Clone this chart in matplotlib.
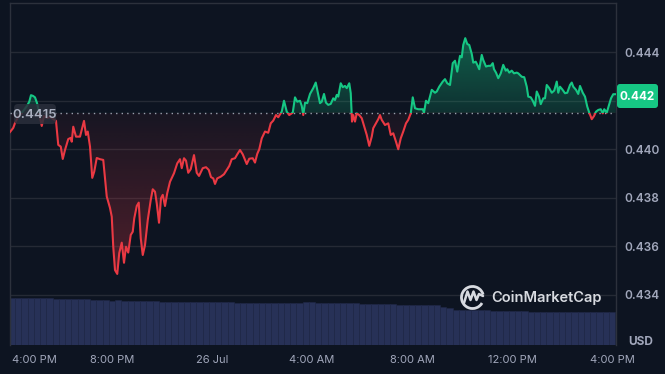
import numpy as np
import matplotlib
matplotlib.use("Agg")
import matplotlib.pyplot as plt
from matplotlib.patches import Rectangle, FancyBboxPatch, Arc
from matplotlib.colors import to_rgb

# ---------------- data ----------------
hours = [
    -0.08, 0.05, 0.12, 0.24, 0.36, 0.48, 0.60, 0.69, 0.76, 0.84,
    0.92, 1.00, 1.08, 1.19, 1.28, 1.40, 1.52, 1.64, 1.76, 1.85,
    1.95, 2.03, 2.12, 2.25, 2.35, 2.39, 2.45, 2.56, 2.72, 2.88,
    2.96, 3.03, 3.12, 3.21, 3.29, 3.39, 3.52, 3.65, 3.79, 3.92,
    3.99, 4.05, 4.12, 4.21, 4.29, 4.39, 4.48, 4.56, 4.65, 4.75,
    4.83, 4.89, 4.99, 5.07, 5.15, 5.23, 5.32, 5.43, 5.55, 5.63,
    5.72, 5.79, 5.88, 5.96, 6.03, 6.12, 6.21, 6.32, 6.48, 6.61,
    6.72, 6.79, 6.88, 6.96, 7.05, 7.15, 7.28, 7.39, 7.48, 7.63,
    7.76, 7.87, 7.96, 8.05, 8.12, 8.21, 8.35, 8.48, 8.59, 8.69,
    8.79, 8.92, 9.01, 9.12, 9.23, 9.39, 9.49, 9.63, 9.72, 9.81,
    9.89, 9.99, 10.12, 10.25, 10.35, 10.45, 10.56, 10.65, 10.79, 10.88,
    10.99, 11.09, 11.23, 11.32, 11.41, 11.52, 11.59, 11.65, 11.72, 11.81,
    11.92, 12.05, 12.15, 12.25, 12.32, 12.39, 12.48, 12.56, 12.65, 12.75,
    12.85, 12.92, 12.99, 13.05, 13.15, 13.23, 13.32, 13.39, 13.49, 13.55,
    13.60, 13.65, 13.72, 13.79, 13.89, 13.99, 14.09, 14.19, 14.29, 14.39,
    14.45, 14.56, 14.65, 14.72, 14.79, 14.92, 15.05, 15.15, 15.25, 15.36,
    15.45, 15.55, 15.65, 15.76, 15.85, 15.95, 16.03, 16.12, 16.25, 16.43,
    16.48, 16.56, 16.65, 16.79, 16.92, 16.99, 17.09, 17.23, 17.32, 17.41,
    17.52, 17.63, 17.72, 17.81, 17.92, 17.99, 18.05, 18.13, 18.21, 18.29,
    18.39, 18.45, 18.55, 18.63, 18.69, 18.79, 18.85, 18.96, 19.05, 19.15,
    19.23, 19.28, 19.36, 19.45, 19.55, 19.65, 19.75, 19.81, 19.89, 19.99,
    20.08, 20.19, 20.25, 20.39, 20.49, 20.59, 20.65, 20.75, 20.83, 20.92,
    20.99, 21.08, 21.15, 21.25, 21.32, 21.39, 21.49, 21.59, 21.69, 21.79,
    21.85, 21.92, 22.01, 22.12, 22.21, 22.32, 22.39, 22.45, 22.56, 22.65,
    22.72, 22.83, 22.92, 23.01, 23.09, 23.19, 23.28, 23.36, 23.45, 23.55,
    23.63, 23.69, 23.79, 23.88, 23.96, 24.05, 24.15,
]
price = [
    0.44071, 0.44088, 0.44108, 0.44133, 0.44146, 0.44162, 0.44179, 0.44196, 0.44223, 0.44220,
    0.44214, 0.44191, 0.44154, 0.44096, 0.44137, 0.44129, 0.44133, 0.44125, 0.44117, 0.44018,
    0.44011, 0.43960, 0.43997, 0.44042, 0.44047, 0.44031, 0.44093, 0.44052, 0.44052, 0.44117,
    0.44059, 0.44073, 0.44011, 0.43882, 0.43908, 0.43964, 0.43959, 0.43956, 0.43805, 0.43758,
    0.43722, 0.43598, 0.43502, 0.43486, 0.43572, 0.43615, 0.43532, 0.43598, 0.43574, 0.43647,
    0.43660, 0.43715, 0.43766, 0.43780, 0.43633, 0.43564, 0.43605, 0.43708, 0.43791, 0.43835,
    0.43825, 0.43777, 0.43697, 0.43798, 0.43812, 0.43766, 0.43819, 0.43866, 0.43901, 0.43942,
    0.43959, 0.43922, 0.43963, 0.43953, 0.43903, 0.43918, 0.43976, 0.43903, 0.43890, 0.43922,
    0.43926, 0.43915, 0.43885, 0.43880, 0.43857, 0.43880, 0.43887, 0.43897, 0.43915, 0.43931,
    0.43959, 0.43963, 0.43979, 0.43997, 0.43979, 0.43939, 0.43961, 0.43963, 0.43945, 0.43981,
    0.44000, 0.44045, 0.44073, 0.44068, 0.44107, 0.44118, 0.44141, 0.44132, 0.44155, 0.44200,
    0.44155, 0.44141, 0.44151, 0.44214, 0.44196, 0.44200, 0.44179, 0.44141, 0.44192, 0.44190,
    0.44228, 0.44252, 0.44275, 0.44224, 0.44190, 0.44196, 0.44228, 0.44192, 0.44183, 0.44187,
    0.44210, 0.44203, 0.44224, 0.44217, 0.44272, 0.44256, 0.44261, 0.44252, 0.44272, 0.44231,
    0.44114, 0.44141, 0.44114, 0.44148, 0.44141, 0.44128, 0.44093, 0.44059, 0.44014, 0.44052,
    0.44087, 0.44107, 0.44124, 0.44141, 0.44121, 0.44100, 0.44107, 0.44059, 0.44066, 0.44031,
    0.44000, 0.44045, 0.44073, 0.44107, 0.44121, 0.44148, 0.44214, 0.44169, 0.44165, 0.44165,
    0.44151, 0.44200, 0.44190, 0.44245, 0.44233, 0.44238, 0.44258, 0.44279, 0.44289, 0.44272,
    0.44265, 0.44355, 0.44365, 0.44320, 0.44385, 0.44379, 0.44430, 0.44458, 0.44434, 0.44430,
    0.44393, 0.44357, 0.44361, 0.44344, 0.44330, 0.44389, 0.44368, 0.44341, 0.44344, 0.44344,
    0.44355, 0.44330, 0.44316, 0.44293, 0.44313, 0.44348, 0.44324, 0.44330, 0.44316, 0.44324,
    0.44313, 0.44316, 0.44313, 0.44299, 0.44297, 0.44258, 0.44217, 0.44214, 0.44200, 0.44179,
    0.44238, 0.44217, 0.44186, 0.44210, 0.44210, 0.44265, 0.44252, 0.44233, 0.44242, 0.44279,
    0.44233, 0.44258, 0.44247, 0.44231, 0.44233, 0.44265, 0.44275, 0.44258, 0.44245, 0.44228,
    0.44261, 0.44233, 0.44217, 0.44176, 0.44151, 0.44124, 0.44137, 0.44155, 0.44162, 0.44165,
    0.44148, 0.44165, 0.44151, 0.44183, 0.44210, 0.44227, 0.44227,
]
baseline = 0.4415
last_label = "0.442"

# 24h volume (millions USD), one bar per 15 minutes
volume = [
    237, 236, 237, 236, 236, 235, 235,
    231, 230, 230, 230, 229, 229,
    225, 225,
    223, 222, 223, 222, 221,
    220, 220, 219, 220,
    215, 215, 215, 214, 215, 215, 214, 215, 215,
    217, 217, 216,
    212, 212, 211, 212, 211, 211, 212, 211, 211, 212, 212,
    215, 214,
    209, 208, 208, 208, 209, 208, 208,
    205, 205, 205, 204, 205, 205,
    200, 200, 200, 199, 200, 200, 199,
    190, 187,
    176, 175, 175, 175, 174, 175,
    171, 170, 170, 170, 169, 170,
    166, 165, 165, 165,
    164, 164, 163, 164, 163, 163, 164, 163, 163, 164,
]
vol_hours = np.arange(len(volume)) * 0.25

tick_hours = [0, 4, 8, 12, 16, 20, 24]
tick_labels = ["4:00 PM", "8:00 PM", "26 Jul", "4:00 AM", "8:00 AM", "12:00 PM", "4:00 PM"]
price_ticks = [0.434, 0.436, 0.438, 0.440, 0.442, 0.444]

# ---------------- style ----------------
BG = "#0d1421"
GREEN = "#16c784"
RED = "#ea3943"
GRID = "#252a35"
SPINE = "#2c313c"
TXT = "#a1a7bb"
FONT = ["Inter", "DejaVu Sans"]
plt.rcParams["font.family"] = FONT

W, H = 665, 374
fig = plt.figure(figsize=(W / 100, H / 100), dpi=100, facecolor=BG)

L, R, T, B = 10, 616, 3, 345
xmin, xmax = -0.08, 24.16
ymin, ymax = 0.43193, 0.44603

# volume axes (behind)
vh = 50
axv = fig.add_axes([L / W, (H - B) / H, (R - L) / W, vh / H])
axv.set_facecolor("none")
axv.bar(vol_hours, volume, width=0.25, color="#273157", edgecolor="#202848", linewidth=0.4, align="center")
axv.set_xlim(xmin, xmax)
axv.set_ylim(0, 250)
axv.axis("off")

ax = fig.add_axes([L / W, (H - B) / H, (R - L) / W, (B - T) / H])
ax.set_facecolor("none")
ax.set_xlim(xmin, xmax)
ax.set_ylim(ymin, ymax)

for v in price_ticks:
    ax.axhline(v, color=GRID, lw=1.0, zorder=1)

# gradient fills clipped to area between line and baseline
poly = ax.fill_between(hours, price, baseline, facecolor="none", edgecolor="none")
clip_path = poly.get_paths()[0]

def gradient(color, a0, a1, y0, y1):
    n = 256
    rgb = to_rgb(color)
    img = np.zeros((n, 1, 4))
    img[:, 0, 0] = rgb[0]
    img[:, 0, 1] = rgb[1]
    img[:, 0, 2] = rgb[2]
    img[:, 0, 3] = np.linspace(a0, a1, n)
    im = ax.imshow(img, extent=[xmin, xmax, y0, y1], origin="lower",
                   aspect="auto", zorder=2, interpolation="bilinear")
    im.set_clip_path(clip_path, ax.transData)

gradient(GREEN, 0.16, 0.42, baseline, max(price))
gradient(RED, 0.05, 0.30, baseline, min(price))
ax.set_xlim(xmin, xmax)
ax.set_ylim(ymin, ymax)

# baseline
ax.axhline(baseline, color="#9aa0ad", lw=1.0, ls=(0, (1, 3)), zorder=3)

# price line, green above / red below baseline
lg, = ax.plot(hours, price, color=GREEN, lw=1.5, zorder=4, solid_joinstyle="round")
lr, = ax.plot(hours, price, color=RED, lw=1.5, zorder=4, solid_joinstyle="round")
lg.set_clip_path(Rectangle((xmin, baseline), xmax - xmin, ymax - baseline, transform=ax.transData))
lr.set_clip_path(Rectangle((xmin, ymin), xmax - xmin, baseline - ymin, transform=ax.transData))

# axes (the 0.442 tick label sits under the last-price badge)
ax.yaxis.tick_right()
ax.set_yticks(price_ticks)
ax.set_yticklabels(["" if f"{v:.3f}" == last_label else f"{v:.3f}" for v in price_ticks],
                   color=TXT, fontsize=8.5, fontweight="semibold")
ax.tick_params(axis="y", length=0, pad=6)
ax.set_xticks(tick_hours)
ax.set_xticklabels(tick_labels, color=TXT, fontsize=8)
ax.tick_params(axis="x", length=0, pad=7)
ax.get_xticklabels()[0].set_horizontalalignment("left")
ax.get_xticklabels()[0].set_x(xmin)
for s in ["left", "top", "right"]:
    ax.spines[s].set_color(SPINE)
    ax.spines[s].set_linewidth(1.0)
ax.spines["bottom"].set_visible(False)

# overlay in pixel coords for annotations
ov = fig.add_axes([0, 0, 1, 1])
ov.set_xlim(0, W)
ov.set_ylim(H, 0)
ov.axis("off")
ov.patch.set_alpha(0)

# baseline label
ov.add_patch(FancyBboxPatch((14, 104), 42, 20, boxstyle="round,pad=0,rounding_size=4",
                            fc="#2a2f3b", ec="none", alpha=0.85, zorder=5))
ov.text(35, 114.5, "0.4415", color="#a9afbf", fontsize=9.5, fontweight="semibold",
        ha="center", va="center", zorder=6)

# last price label
ov.add_patch(FancyBboxPatch((617, 84), 41, 24, boxstyle="round,pad=0,rounding_size=3",
                            fc=GREEN, ec="none", zorder=5))
ov.text(637.5, 96.5, last_label, color="white", fontsize=8.5, fontweight="bold",
        ha="center", va="center", zorder=6)

# USD label
ov.text(641, 342, "USD", color=TXT, fontsize=8.5, fontweight="bold", ha="center", va="center")

# watermark
WM = "#d7dae0"
ov.add_patch(Arc((472.5, 297.5), 22, 22, theta1=30, theta2=345, color=WM, lw=2.0))
ov.plot([464, 467.5, 470.5, 473.5, 476.5, 479, 483],
        [303, 291.5, 300, 291.5, 300, 294, 296], color=WM, lw=1.8, solid_joinstyle="round",
        solid_capstyle="round")
ov.text(491, 297.5, "CoinMarketCap", color=WM, fontsize=10.5, fontweight="semibold",
        ha="left", va="center")

fig.savefig("out.png", dpi=100, facecolor=BG)
